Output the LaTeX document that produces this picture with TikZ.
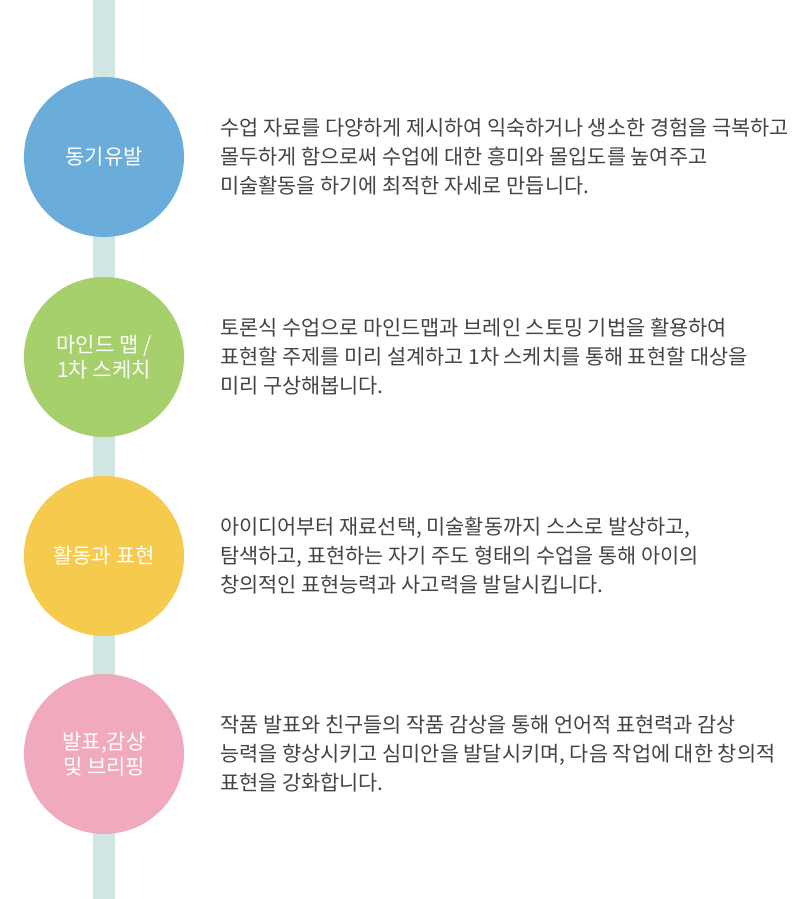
\documentclass[tikz,border=0pt]{standalone}
\usepackage{fontspec}
\newfontfamily\kr{Noto Sans CJK KR}
\definecolor{barcol}{HTML}{CFE6E3}
\definecolor{c1}{HTML}{6AADDB}
\definecolor{c2}{HTML}{A6D06B}
\definecolor{c3}{HTML}{F5CA4D}
\definecolor{c4}{HTML}{F0A9BD}
\definecolor{txt}{HTML}{444444}
\tikzset{
  bar/.style={line width=22pt, draw=barcol},
  stage/.style={circle, minimum size=160pt, inner sep=0pt, text=white, align=center,
    font=\kr\fontsize{21}{25}\selectfont},
  desc/.style={anchor=west, align=left, text=txt, inner sep=0pt,
    font=\kr\fontsize{20.8}{29}\selectfont},
}
\begin{document}
\begin{tikzpicture}[x=1pt,y=-1pt]
\useasboundingbox[fill=white] (0,0) rectangle (802,899);
\coordinate (top) at (104,0);
\coordinate (bot) at (104,899);
\draw[bar] (top) -- (bot);
\node[stage, fill=c1] (s1) at (104,157) {동기유발};
\node[stage, fill=c2] (s2) at (104,357) {마인드 맵 /\\1차 스케치};
\node[stage, fill=c3] (s3) at (104,556) {활동과 표현};
\node[stage, fill=c4] (s4) at (104,754) {발표,감상\\및 브리핑};
\node[desc] (d1) at (220,157) {수업 자료를 다양하게 제시하여 익숙하거나 생소한 경험을 극복하고\\몰두하게 함으로써 수업에 대한 흥미와 몰입도를 높여주고\\미술활동을 하기에 최적한 자세로 만듭니다.};
\node[desc] (d2) at (220,357) {토론식 수업으로 마인드맵과 브레인 스토밍 기법을 활용하여\\표현할 주제를 미리 설계하고 1차 스케치를 통해 표현할 대상을\\미리 구상해봅니다.};
\node[desc] (d3) at (220,556) {아이디어부터 재료선택, 미술활동까지 스스로 발상하고,\\탐색하고, 표현하는 자기 주도 형태의 수업을 통해 아이의\\창의적인 표현능력과 사고력을 발달시킵니다.};
\node[desc] (d4) at (220,754) {작품 발표와 친구들의 작품 감상을 통해 언어적 표현력과 감상\\능력을 향상시키고 심미안을 발달시키며, 다음 작업에 대한 창의적\\표현을 강화합니다.};
\end{tikzpicture}
\end{document}
